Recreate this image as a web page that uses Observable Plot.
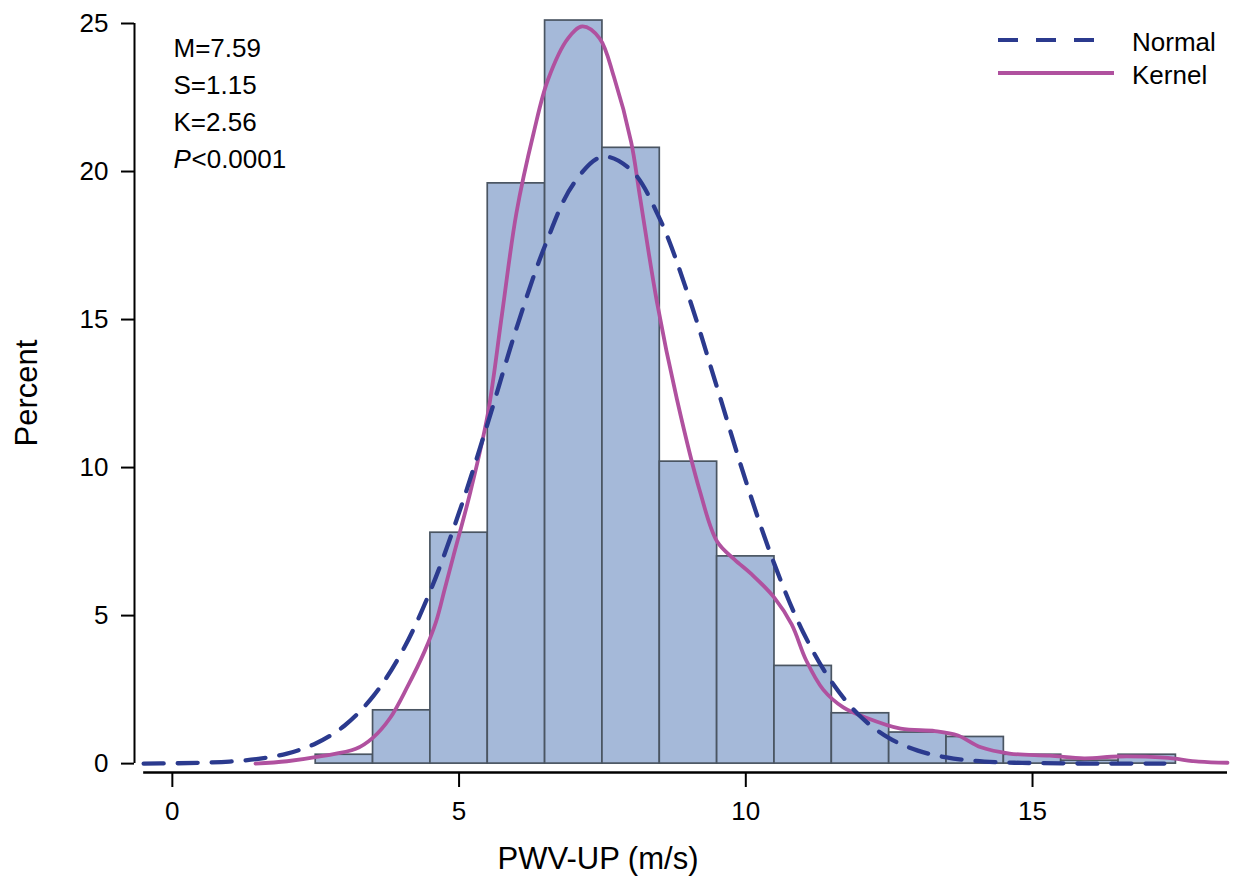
<!DOCTYPE html>
<html>
<head>
<meta charset="utf-8">
<script src="https://cdn.jsdelivr.net/npm/d3@7"></script>
<script src="https://cdn.jsdelivr.net/npm/@observablehq/plot@0.6"></script>
<style>
  html, body { margin: 0; padding: 0; background: #fff; }
  #wrap { position: relative; width: 1235px; height: 877px; font-family: "Liberation Sans", Arial, sans-serif; }
  #legend { position: absolute; left: 990px; top: 20px; font-size: 26px; color: #000; }
  #legend .row { position: absolute; white-space: nowrap; }
</style>
</head>
<body>
<div id="wrap">
  <div id="chart"></div>
  <div id="legend"></div>
</div>
<script>
// Histogram bins (midpoints, m/s) and percent heights
const binMid     = [0, 1, 2, 3,   4,   5,   6,    7,    8,    9,    10,  11,  12,  13,   14,  15,  16,  17];
const binPercent = [0, 0, 0, 0.3, 1.8, 7.8, 19.6, 25.1, 20.8, 10.2, 7.0, 3.3, 1.7, 1.05, 0.9, 0.3, 0.1, 0.3];

// Normal density curve
const normalX = [-0.5, 0, 0.5, 1, 1.5, 2, 2.5, 3, 3.5, 4, 4.5, 5, 5.5, 6, 6.5, 7, 7.5, 8, 8.5, 9, 9.5, 10, 10.5, 11, 11.5, 12, 12.5, 13, 13.5, 14, 14.5, 15, 15.5, 16, 16.5, 17, 17.3];
const normalY = [0, 0.01, 0.03, 0.07, 0.16, 0.34, 0.68, 1.28, 2.27, 3.76, 5.84, 8.48, 11.5, 14.7, 17.5, 19.6, 20.5, 20.05, 18.4, 15.8, 12.7, 9.55, 6.73, 4.44, 2.75, 1.59, 0.86, 0.44, 0.21, 0.09, 0.04, 0.02, 0.01, 0, 0, 0, 0];

// Kernel density curve
const kernelX = [1.45, 2.0, 2.6, 3.2, 3.5, 3.8, 4.1, 4.4, 4.6, 4.75, 4.9, 5.2, 5.5, 5.75, 6.0, 6.3, 6.55, 6.9, 7.15, 7.45, 7.7, 8.0, 8.15, 8.45, 8.8, 9.2, 9.5, 9.8, 10.1, 10.5, 10.8, 11.05, 11.35, 11.7, 12.1, 12.7, 13.3, 13.7, 14.1, 14.6, 15.3, 15.9, 16.5, 17.3, 17.9, 18.4];
const kernelY = [0, 0.08, 0.25, 0.5, 0.88, 1.55, 2.6, 3.8, 4.8, 5.9, 7.0, 9.2, 11.8, 15.2, 18.6, 21.3, 23.1, 24.5, 24.9, 24.5, 23.2, 21.0, 19.2, 15.6, 12.3, 9.2, 7.5, 6.9, 6.4, 5.6, 4.7, 3.5, 2.5, 1.9, 1.55, 1.18, 1.1, 0.95, 0.55, 0.34, 0.27, 0.18, 0.24, 0.2, 0.07, 0.03];

const xTicks = [0, 5, 10, 15];
const yTicks = [0, 5, 10, 15, 20, 25];
const statsLines = ["M=7.59", "S=1.15", "K=2.56"];
const pLabel = ["P", "<0.0001"];
const xTitle = "PWV-UP (m/s)";
const yTitle = "Percent";
const legendNames = ["Normal", "Kernel"];

const xDomain = [-0.66, 18.4];
const yDomain = [-0.3, 25];
const xAxisStart = -0.5;

const bins = binMid.map((m, i) => ({mid: m, pct: binPercent[i]}));
const normal = normalX.map((x, i) => ({x, y: normalY[i]}));
const kernel = kernelX.map((x, i) => ({x, y: kernelY[i]}));

const NAVY = "#2b3a8e";
const MAGENTA = "#b0519f";
const FONT = "Liberation Sans, Arial, sans-serif";
const LINE_GAP = 37;

const statMarks = statsLines.map((s, i) =>
  Plot.text([s], {frameAnchor: "top-left", textAnchor: "start", lineAnchor: "middle", dx: 39, dy: 25 + i * LINE_GAP, fontSize: 26, fill: "#000"})
);

const chart = Plot.plot({
  width: 1235,
  height: 877,
  marginTop: 23,
  marginBottom: 105,
  marginLeft: 134,
  marginRight: 8,
  x: {domain: xDomain, label: null},
  y: {domain: yDomain, label: null},
  style: {fontFamily: FONT, fontSize: "26px", color: "#000", background: "#fff", overflow: "visible"},
  marks: [
    Plot.rect(bins, {x1: d => d.mid - 0.5, x2: d => d.mid + 0.5, y1: 0, y2: "pct", fill: "#a5b9d9", stroke: "#4a5562", strokeWidth: 1.7}),
    Plot.line(kernel, {x: "x", y: "y", stroke: MAGENTA, strokeWidth: 3.8, curve: "catmull-rom"}),
    Plot.line(normal, {x: "x", y: "y", stroke: NAVY, strokeWidth: 4.3, strokeDasharray: "20,14", curve: "catmull-rom"}),
    Plot.ruleX([xDomain[0]], {y1: 0, y2: yDomain[1], stroke: "#000", strokeWidth: 2}),
    Plot.ruleY([yDomain[0]], {x1: xAxisStart, x2: xDomain[1], stroke: "#000", strokeWidth: 2.5}),
    Plot.axisY({ticks: yTicks, tickSize: 13, tickPadding: 13, label: null, fontSize: 26, strokeWidth: 2}),
    Plot.axisX({ticks: xTicks, tickSize: 15, tickPadding: 14, label: null, fontSize: 26, strokeWidth: 2}),
    Plot.text([yTitle], {frameAnchor: "left", textAnchor: "middle", lineAnchor: "middle", rotate: -90, dx: -107, dy: -5, fontSize: 31, fill: "#000"}),
    Plot.text([xTitle], {frameAnchor: "bottom", textAnchor: "middle", lineAnchor: "top", dx: -83, dy: 74, fontSize: 31, fill: "#000"}),
    ...statMarks,
    Plot.text([pLabel[0]], {frameAnchor: "top-left", textAnchor: "start", lineAnchor: "middle", dx: 39, dy: 25 + 3 * LINE_GAP, fontSize: 26, fontStyle: "italic", fill: "#000"}),
    Plot.text([pLabel[1]], {frameAnchor: "top-left", textAnchor: "start", lineAnchor: "middle", dx: 57, dy: 25 + 3 * LINE_GAP, fontSize: 26, fill: "#000"})
  ]
});
document.getElementById("chart").appendChild(chart);

// Legend (top-right, inside the plot area)
const legend = document.getElementById("legend");
const styles = [
  {stroke: NAVY, width: 4, dash: "20,18", len: 99},
  {stroke: MAGENTA, width: 4, dash: null, len: 116}
];
legendNames.forEach((name, i) => {
  const row = document.createElement("div");
  row.className = "row";
  row.style.top = (i * 33) + "px";
  row.style.left = "0px";
  const s = styles[i];
  row.innerHTML =
    `<svg width="130" height="30" style="position:absolute;left:0;top:0">` +
    `<line x1="8" x2="${8 + s.len}" y1="20" y2="20" stroke="${s.stroke}" stroke-width="${s.width}"` +
    (s.dash ? ` stroke-dasharray="${s.dash}"` : "") + `/></svg>` +
    `<span style="position:absolute;left:142px;top:8px;line-height:28px">${name}</span>`;
  legend.appendChild(row);
});
</script>
</body>
</html>
